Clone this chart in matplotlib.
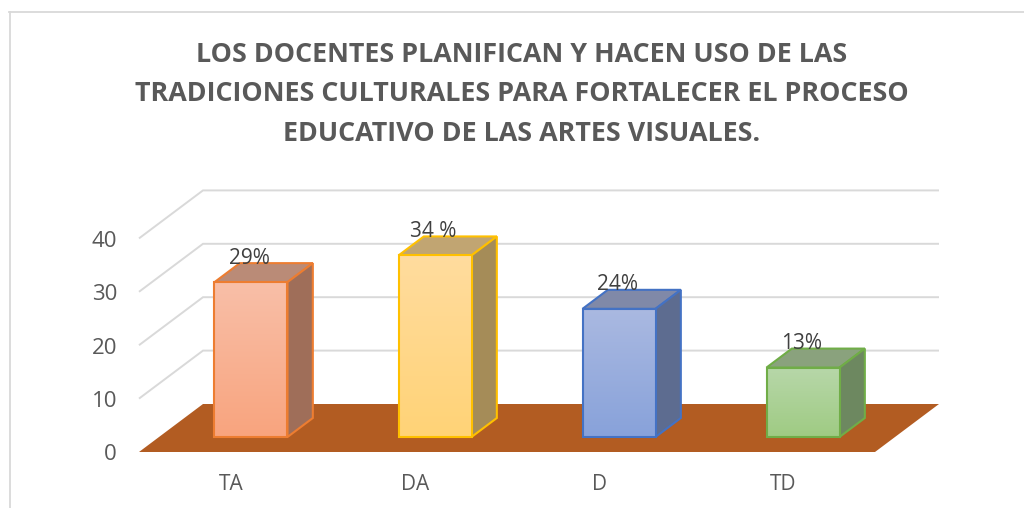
import matplotlib
matplotlib.use('Agg')
import matplotlib.pyplot as plt
from matplotlib.lines import Line2D
from matplotlib.patches import Polygon
from matplotlib.colors import to_rgb
import numpy as np

title_lines = ['LOS DOCENTES PLANIFICAN Y HACEN USO DE LAS',
               'TRADICIONES CULTURALES PARA FORTALECER EL PROCESO',
               'EDUCATIVO DE LAS ARTES VISUALES.']
categories = ['TA', 'DA', 'D', 'TD']
values = [29, 34, 24, 13]
value_labels = ['29%', '34 %', '24%', '13%']
y_ticks = [0, 10, 20, 30, 40]

edge_colors = ['#ED7D31', '#FFC000', '#4472C4', '#70AD47']
front_top = ['#F9BFA8', '#FFDC9E', '#AAB9E1', '#B7D7A9']
front_bottom = ['#F8A47E', '#FFD377', '#88A2DA', '#9FCB83']
side_colors = ['#9F6E59', '#A58C58', '#5D6C90', '#6D8860']
top_colors = ['#BA8B77', '#C1A572', '#8089A8', '#8AA27D']
floor_color = '#B25C22'
grid_color = '#D9D9D9'

# size of one category / one value unit in pixels, and the oblique depth offset
PX_CAT = 184
PX_VAL = 5.34
DEPTH_X = 64 / PX_CAT
DEPTH_Y = 48 / PX_VAL
BAR_HALF = 36.5 / PX_CAT
BAR_FRONT = 15 / 48
BAR_BACK = 34 / 48


def pt(cat, val, depth=0.0):
    return (cat + depth * DEPTH_X, val + depth * DEPTH_Y)


fig = plt.figure(figsize=(10.24, 5.08), dpi=100)
ax = fig.add_axes([0, 0, 1, 1])
ax.axis('off')

# borders of the chart area
fig.add_artist(Line2D([9.5 / 1024, 9.5 / 1024], [0, 1 - 12 / 508], color='#D9D9D9', lw=1.3))
fig.add_artist(Line2D([9 / 1024, 1], [1 - 12 / 508, 1 - 12 / 508], color='#D9D9D9', lw=1.3))

left, right = -0.5, len(categories) - 0.5

# gridlines on the back and side walls
for v in y_ticks[1:]:
    xs, ys = zip(pt(left, v), pt(left, v, 1), pt(right, v, 1))
    ax.plot(xs, ys, color=grid_color, lw=1.4, zorder=1, solid_joinstyle='miter', solid_capstyle='butt')

# floor
ax.add_patch(Polygon([pt(left, 0), pt(right, 0), pt(right, 0, 1), pt(left, 0, 1)],
                     closed=True, fc=floor_color, ec='none', zorder=2))

for i, v in enumerate(values):
    x0, x1 = i - BAR_HALF, i + BAR_HALF

    top = Polygon([pt(x0, v, BAR_FRONT), pt(x1, v, BAR_FRONT), pt(x1, v, BAR_BACK), pt(x0, v, BAR_BACK)],
                  closed=True, fc=top_colors[i], ec=edge_colors[i], lw=1.5, zorder=3)
    side = Polygon([pt(x1, 0, BAR_FRONT), pt(x1, 0, BAR_BACK), pt(x1, v, BAR_BACK), pt(x1, v, BAR_FRONT)],
                   closed=True, fc=side_colors[i], ec=edge_colors[i], lw=1.5, zorder=3)
    ax.add_patch(top)
    ax.add_patch(side)

    # front face with vertical gradient
    fx0, fy0 = pt(x0, 0, BAR_FRONT)
    fx1, fy1 = pt(x1, v, BAR_FRONT)
    t = np.linspace(0, 1, 64)[:, None, None]
    grad = (1 - t) * np.array(to_rgb(front_top[i])) + t * np.array(to_rgb(front_bottom[i]))
    ax.imshow(grad, extent=(fx0, fx1, fy0, fy1), aspect='auto', zorder=4)
    ax.add_patch(Polygon([(fx0, fy0), (fx1, fy0), (fx1, fy1), (fx0, fy1)],
                         closed=True, fc='none', ec=edge_colors[i], lw=1.5, zorder=5))

    # data label sits over the back edge of the bar, centred on the front face
    lx = pt(i, v, BAR_FRONT)[0]
    ly = pt(i, v, BAR_BACK)[1]
    ax.text(lx - 1.5 / PX_CAT, ly + 5 / PX_VAL, value_labels[i], ha='center', va='center',
            fontsize=15, family='Open Sans', color='#404040', zorder=6)

    ax.text(i, -32 / PX_VAL, categories[i], ha='center', va='center',
            fontsize=15, family='Open Sans', color='#595959')

for v in y_ticks:
    ax.text(left - 22 / PX_CAT, v - 3 / PX_VAL, str(v), ha='right', va='center',
            fontsize=16, family='Open Sans', color='#595959')

ax.set_xlim(-231 / PX_CAT, (1024 - 231) / PX_CAT)
ax.set_ylim(-(508 - 452) / PX_VAL, 452 / PX_VAL)

for line, y in zip(title_lines, [55, 94, 134]):
    fig.text(522 / 1024, 1 - y / 508, line, ha='center', va='center',
             fontsize=19.4, fontweight='bold', family='Open Sans', color='#595959')

plt.savefig('out.png', dpi=100)
plt.close()
